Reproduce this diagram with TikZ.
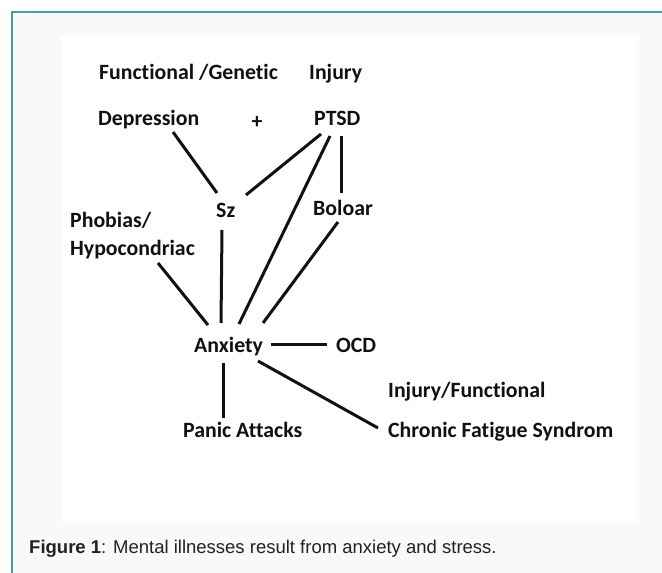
\documentclass[tikz,border=0pt]{standalone}
\usepackage{fontspec}
\setmainfont{Carlito}[Ligatures=NoCommon]
\newfontfamily\capfont{Liberation Sans}
\definecolor{frameteal}{HTML}{4A9C9D}
\definecolor{panelbg}{HTML}{F8F9F9}
\definecolor{inkc}{HTML}{111111}
\definecolor{capc}{HTML}{222222}
\begin{document}
\begin{tikzpicture}[x=1pt,y=-1pt,
  lbl/.style={anchor=base west,inner sep=0pt,text=inkc,font=\bfseries\fontsize{21.8}{28}\selectfont},
  link/.style={draw=inkc,line width=3pt}]
\useasboundingbox (0,0) rectangle (662,573);
\fill[white] (0,0) rectangle (662,573);
\fill[panelbg] (12,12) rectangle (662,573);
\draw[frameteal,line width=1.5pt] (12,573) -- (12,12) -- (662,12);
\fill[white] (61,36) rectangle (639,521);

\node[lbl] (fg) at (99,79) {Functional /Genetic};
\node[lbl] (inj) at (309,79) {Injury};
\node[lbl] (dep) at (98,125) {Depression};
\node[lbl,anchor=center] (plus) at (257,122) {+};
\node[lbl] (ptsd) at (314,125) {PTSD};
\node[lbl] (sz) at (216,217) {Sz};
\node[lbl] (bol) at (313,215) {Boloar};
\node[lbl,align=left] (pho) at (70,255) {Phobias/\\Hypocondriac};
\node[lbl] (anx) at (194,352) {Anxiety};
\node[lbl] (ocd) at (336,352) {OCD};
\node[lbl] (injf) at (388,397) {Injury/Functional};
\node[lbl] (panic) at (183,437) {Panic Attacks};
\node[lbl] (cfs) at (388,437) {Chronic Fatigue Syndrom};

\draw[link] ([shift={(75,7)}]dep.base west) -- ([shift={(1,-24)}]sz.base west);
\draw[link] ([shift={(7,9)}]ptsd.base west) -- ([shift={(30,-22)}]sz.base west);
\draw[link] ([shift={(16,11)}]ptsd.base west) -- ([shift={(45,-28)}]anx.base west);
\draw[link] ([shift={(27,11)}]ptsd.base west) -- ([shift={(28,-22)}]bol.base west);
\draw[link] ([shift={(25,7)}]bol.base west) -- ([shift={(69,-29)}]anx.base west);
\draw[link] ([shift={(6,13)}]sz.base west) -- ([shift={(27,-29)}]anx.base west);
\draw[link] ([shift={(88,8)}]pho.base west) -- ([shift={(14,-27)}]anx.base west);
\draw[link] ([shift={(77,-8)}]anx.base west) -- ([shift={(-9,-8)}]ocd.base west);
\draw[link] ([shift={(64,9)}]anx.base west) -- ([shift={(-10,-9)}]cfs.base west);
\draw[link] ([shift={(29,11)}]anx.base west) -- ([shift={(40,-19)}]panic.base west);

\node[anchor=base west,inner sep=0pt,text=capc,font=\capfont\fontsize{18.5}{22}\selectfont] (cap) at (29,553) {\textbf{Figure 1}: Mental illnesses result from anxiety and stress.};
\end{tikzpicture}
\end{document}
